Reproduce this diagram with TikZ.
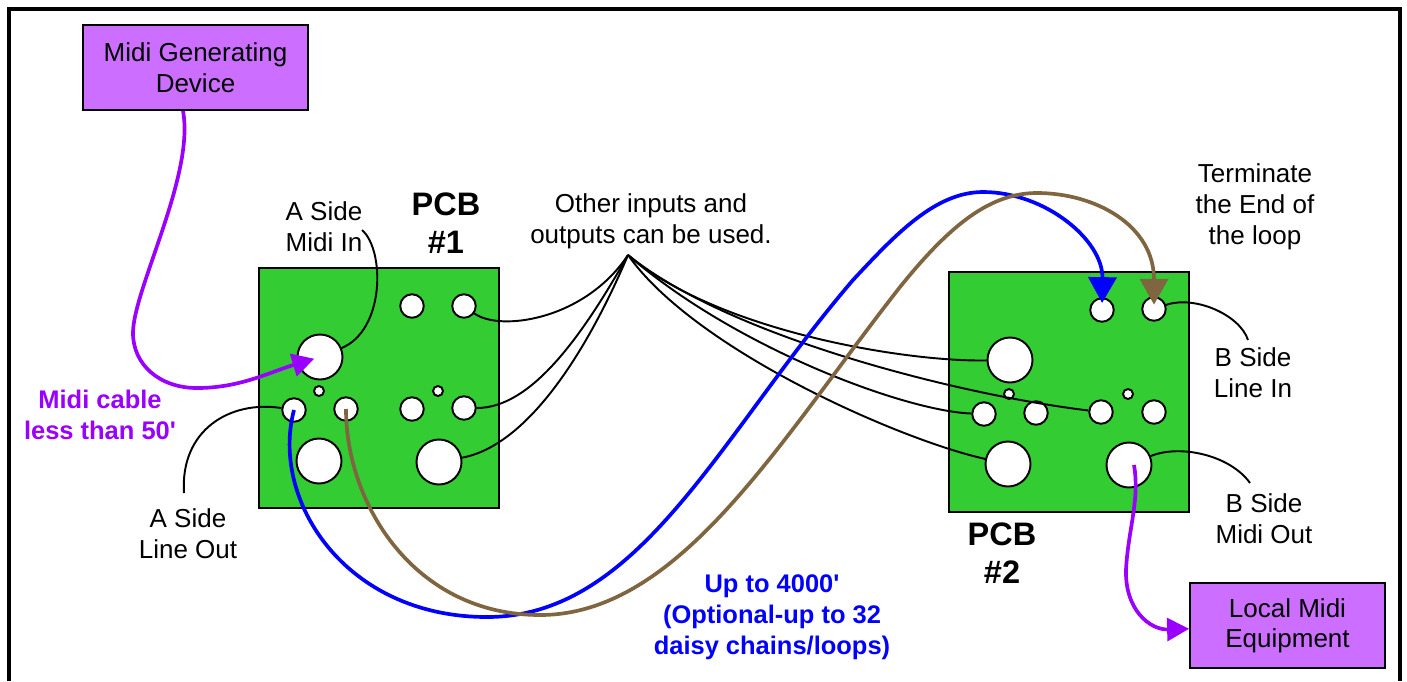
\documentclass[tikz,border=0pt]{standalone}
\usepackage{fontspec}
\setmainfont{Liberation Sans}
\definecolor{BoardGreen}{RGB}{51,204,51}
\definecolor{BoxPurple}{RGB}{204,110,255}
\definecolor{CablePurple}{RGB}{153,0,255}
\definecolor{CableBlue}{RGB}{0,0,255}
\definecolor{CableBrown}{RGB}{127,101,64}
\usetikzlibrary{arrows.meta,positioning}
\newcommand{\quo}{\textquotesingle}

\begin{document}
\begin{tikzpicture}[x=0.02cm,y=-0.02cm,
  board/.style={draw,line width=1.25pt,fill=BoardGreen,minimum size=4.8cm,inner sep=0pt},
  jackbig/.style={circle,draw,line width=1.1pt,fill=white,minimum size=0.9cm,inner sep=0pt},
  jacksmall/.style={circle,draw,line width=1.1pt,fill=white,minimum size=0.47cm,inner sep=0pt},
  jacktiny/.style={circle,draw,line width=1.1pt,fill=white,minimum size=0.2cm,inner sep=0pt},
  devbox/.style={draw,line width=1.1pt,fill=BoxPurple,align=center,inner sep=0pt,
                 font=\fontsize{14.8}{17.6}\selectfont},
  lbl/.style={align=center,inner sep=0pt,font=\fontsize{14.8}{17.6}\selectfont},
  pcbtitle/.style={align=center,inner sep=0pt,font=\fontsize{18.5}{22}\selectfont\bfseries},
  note/.style={align=center,inner sep=0pt,font=\fontsize{14.5}{17.6}\selectfont\bfseries},
  wire/.style={line width=1.1pt},
  cable/.style={line width=2.1pt}]
  \useasboundingbox (0,0) rectangle (1407,681);
  \coordinate (FrameA) at (9,681);
  \coordinate (FrameB) at (9,9);
  \coordinate (FrameC) at (1400,9);
  \coordinate (FrameD) at (1400,681);
  \draw[line width=1.9pt](FrameA)--(FrameB)--(FrameC)--(FrameD);

  \node[devbox,minimum width=4.5cm,minimum height=1.7cm](GEN) at (195.5,67.5){Midi Generating\\Device};
  \node[devbox,minimum width=3.9cm,minimum height=1.7cm](LOCAL) at (1287.5,625.8){Local Midi\\Equipment};

  \node[board](PCBA) at (379,388){};
  \node[jackbig](AIN) at (320,357){};
  \node[jacksmall](AT1) at (412,306){};
  \node[jacksmall](AT2) at (464,306){};
  \node[jacktiny](AP1) at (319,391){};
  \node[jacktiny](AP2) at (438,391){};
  \node[jacksmall](AM1) at (294,410){};
  \node[jacksmall](AM2) at (346,409){};
  \node[jacksmall](AM3) at (412,409){};
  \node[jacksmall](AM4) at (464,408){};
  \node[jackbig](AB1) at (319,461){};
  \node[jackbig](AB2) at (439,462){};

  \node[board](PCBB) at (1068.8,391.8){};
  \node[jacksmall](BT1) at (1102,310){};
  \node[jacksmall](BT2) at (1154,309){};
  \node[jackbig](BB0) at (1010,360){};
  \node[jacktiny](BP1) at (1009,394){};
  \node[jacktiny](BP2) at (1128,394){};
  \node[jacksmall](BM1) at (984,414){};
  \node[jacksmall](BM2) at (1036,413){};
  \node[jacksmall](BM3) at (1101,412){};
  \node[jacksmall](BM4) at (1154,412){};
  \node[jackbig](BB1) at (1008,464){};
  \node[jackbig](BOUT) at (1129,465){};

  \node[lbl](OTHER) at (651,221){Other inputs and\\outputs can be used.};
  \node[lbl](AINL) at (324,227){A Side\\Midi In};
  \node[lbl](AOUTL) at (188,534){A Side\\Line Out};
  \node[lbl](TERM) at (1255,207){Terminate\\the End of\\the loop};
  \node[lbl](BINL) at (1253,373){B Side\\Line In};
  \node[lbl](BOUTL) at (1264,519){B Side\\Midi Out};
  \node[pcbtitle](TA) at (446,223){PCB\\\#1};
  \node[pcbtitle](TB) at (1002,553){PCB\\\#2};
  \node[note,text=CablePurple](NCAB) at (100,415){Midi cable\\less than 50\quo};
  \node[note,text=CableBlue](NLOOP) at (772,617){Up to 4000\quo\\(Optional-up to 32\\daisy chains/loops)};

  \coordinate (HUB) at (628,255);
  \coordinate (AINEND) at (362,230);
  \coordinate (AOUTEND) at (184,493);
  \coordinate (BINEND) at (1248,340);
  \coordinate (BOUTEND) at (1250,483);
  % thin wires
  \draw[wire](AT2) .. controls (500,332) and (585,320) .. (HUB);
  \draw[wire](AM4) .. controls (530,408) and (580,340) .. (HUB);
  \draw[wire](AB2) .. controls (530,445) and (590,345) .. (HUB);
  \draw[wire](BB0) .. controls (905,362) and (717,331) .. (HUB);
  \draw[wire](BM1) .. controls (905,411) and (735,348) .. (HUB);
  \draw[wire](BM3) .. controls (960,395) and (729,337) .. (HUB);
  \draw[wire](BB1) .. controls (900,440) and (695,350) .. (HUB);
  \draw[wire](AINEND) .. controls (385,250) and (385,330) .. (AIN);
  \draw[wire](AM1) .. controls (230,400) and (180,430) .. (AOUTEND);
  \draw[wire](BT2) .. controls (1195,295) and (1240,315) .. (BINEND);
  \draw[wire](BOUT) .. controls (1180,444) and (1230,455) .. (BOUTEND);
  % cables
  \draw[cable,CablePurple,shorten >=3.4pt,-{Triangle[length=12.5pt,width=13pt]}](GEN.south -| 183,0)
    .. controls (195,175) and (133,290) .. (133,333)
    .. controls (133,365) and (160,388) .. (197,388)
    .. controls (240,388) and (270,372) .. (AIN.center);
  \draw[cable,CablePurple,-{Triangle[length=12.5pt,width=13pt]}]([xshift=0.1cm]BOUT.center)
    .. controls (1140,500) and (1128,530) .. (1126,570)
    .. controls (1125,610) and (1150,630) .. ([yshift=-0.06cm]LOCAL.west);
  \draw[cable,CableBlue,shorten >=4pt,-{Triangle[length=14.7pt,width=16pt]}](AM1.center)
    .. controls (270,500) and (345,617) .. (487,617)
    .. controls (640,617) and (720,435) .. (853,280)
    .. controls (895,235) and (935,192) .. (983,192)
    .. controls (1045,192) and (1103,240) .. (BT1.center);
  \draw[cable,CableBrown,shorten >=2.5pt,-{Triangle[length=14.7pt,width=16pt]}](AM2.center)
    .. controls (346,505) and (415,615) .. (540,615)
    .. controls (680,615) and (780,440) .. (900,287)
    .. controls (950,225) and (990,193) .. (1037,193)
    .. controls (1095,193) and (1154,225) .. (BT2.center);
\end{tikzpicture}
\end{document}
